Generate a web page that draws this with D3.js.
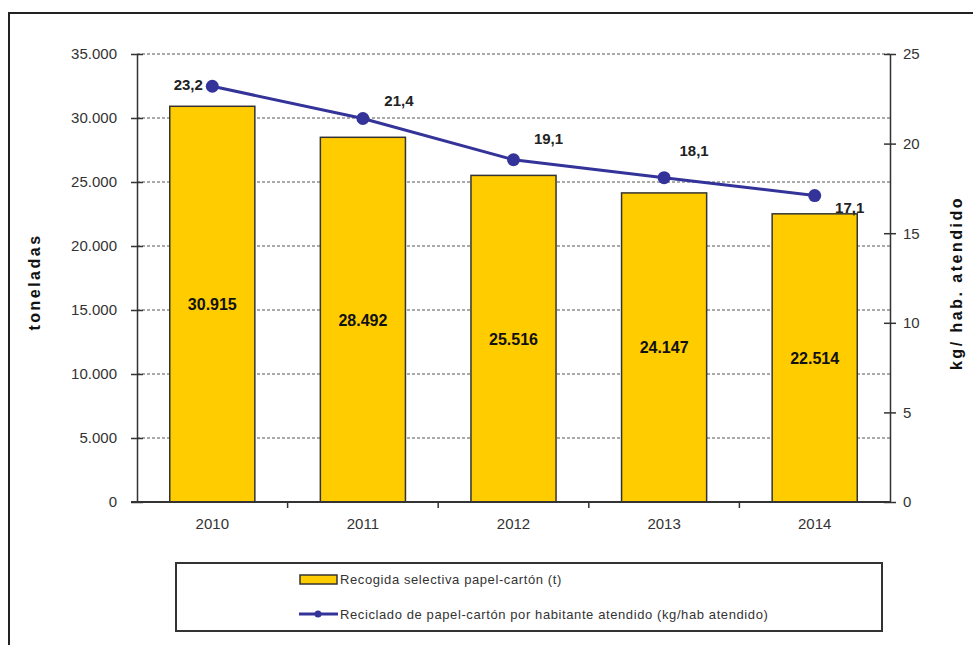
<!DOCTYPE html>
<html>
<head>
<meta charset="utf-8">
<script src="https://cdn.jsdelivr.net/npm/d3@7"></script>
<style>
  body { margin: 0; background: #fff; }
  svg { display: block; font-family: "Liberation Sans", Arial, sans-serif; }
</style>
</head>
<body>
<div id="chart"></div>
<script>
// data
const years = ["2010", "2011", "2012", "2013", "2014"];
const toneladas = [30915, 28492, 25516, 24147, 22514];
const kgHab = [23.2, 21.4, 19.1, 18.1, 17.1];
const leftTicks = [0, 5000, 10000, 15000, 20000, 25000, 30000, 35000];
const rightTicks = [0, 5, 10, 15, 20, 25];
const legendLabels = [
  "Recogida selectiva papel-cartón (t)",
  "Reciclado de papel-cartón por habitante atendido (kg/hab atendido)"
];

const width = 973, height = 645;
const margin = { top: 54, right: 83, bottom: 143, left: 137 };
const chartWidth = width - margin.left - margin.right;
const chartHeight = height - margin.top - margin.bottom;

const svg = d3.select("#chart").append("svg")
  .attr("width", width)
  .attr("height", height);

// outer frame
svg.append("rect")
  .attr("x", 9).attr("y", 13)
  .attr("width", 980).attr("height", 650)
  .attr("fill", "none")
  .attr("stroke", "#222")
  .attr("stroke-width", 2);

const g = svg.append("g")
  .attr("transform", `translate(${margin.left},${margin.top})`);

const x = d3.scaleBand()
  .domain(years)
  .range([0, chartWidth])
  .paddingInner(0.435)
  .paddingOuter(0.2175);

const y = d3.scaleLinear().domain([0, 35000]).range([chartHeight, 0]);
const y2 = d3.scaleLinear().domain([0, 25]).range([chartHeight, 0]);

const fmtThousands = d3.formatLocale({ decimal: ",", thousands: ".", grouping: [3], currency: ["", ""] }).format(",d");

// gridlines
g.append("g")
  .selectAll("line")
  .data(leftTicks.filter(d => d > 0))
  .enter().append("line")
  .attr("x1", 0).attr("x2", chartWidth)
  .attr("y1", d => y(d)).attr("y2", d => y(d))
  .attr("stroke", "#555")
  .attr("stroke-width", 1)
  .attr("stroke-dasharray", "3,2");

// bars
g.append("g")
  .selectAll("rect")
  .data(toneladas)
  .enter().append("rect")
  .attr("x", (d, i) => x(years[i]))
  .attr("y", d => y(d))
  .attr("width", x.bandwidth())
  .attr("height", d => chartHeight - y(d))
  .attr("fill", "#FFCC00")
  .attr("stroke", "#333")
  .attr("stroke-width", 1.5);

// bar labels
g.append("g")
  .selectAll("text")
  .data(toneladas)
  .enter().append("text")
  .attr("x", (d, i) => x(years[i]) + x.bandwidth() / 2)
  .attr("y", d => (y(d) + chartHeight) / 2 + 6)
  .attr("text-anchor", "middle")
  .attr("font-size", 16)
  .attr("font-weight", "bold")
  .attr("fill", "#111")
  .text(d => fmtThousands(d));

// left axis
const leftAxis = g.append("g")
  .call(d3.axisLeft(y).tickValues(leftTicks).tickSizeInner(6).tickSizeOuter(0).tickFormat(fmtThousands));
leftAxis.select(".domain").attr("stroke", "#333").attr("stroke-width", 1.5);
leftAxis.selectAll(".tick line").attr("x1", 6).attr("x2", -6).attr("stroke", "#333").attr("stroke-width", 1.5);
leftAxis.selectAll(".tick text").attr("x", -20).attr("font-size", 15).attr("fill", "#333");

// right axis
const rightAxis = g.append("g")
  .attr("transform", `translate(${chartWidth},0)`)
  .call(d3.axisRight(y2).tickValues(rightTicks).tickSizeInner(6).tickSizeOuter(0));
rightAxis.select(".domain").attr("stroke", "#333").attr("stroke-width", 1.5);
rightAxis.selectAll(".tick line").attr("x1", -6).attr("x2", 6).attr("stroke", "#333").attr("stroke-width", 1.5);
rightAxis.selectAll(".tick text").attr("x", 13).attr("font-size", 15).attr("fill", "#333");

// bottom axis: labels at band centres, ticks at band boundaries
const bottom = g.append("g").attr("transform", `translate(0,${chartHeight})`);
bottom.append("line")
  .attr("x1", -6).attr("x2", chartWidth)
  .attr("stroke", "#333").attr("stroke-width", 2);
bottom.selectAll(".sep")
  .data(years.slice(1))
  .enter().append("line")
  .attr("class", "sep")
  .attr("x1", d => x(d) - x.step() * x.paddingInner() / 2)
  .attr("x2", d => x(d) - x.step() * x.paddingInner() / 2)
  .attr("y1", 0).attr("y2", 6)
  .attr("stroke", "#333").attr("stroke-width", 1.5);
bottom.selectAll(".yr")
  .data(years)
  .enter().append("text")
  .attr("class", "yr")
  .attr("x", d => x(d) + x.bandwidth() / 2)
  .attr("y", 27)
  .attr("text-anchor", "middle")
  .attr("font-size", 15)
  .attr("fill", "#333")
  .text(d => d);

// axis titles
svg.append("text")
  .attr("transform", `translate(40,${margin.top + chartHeight / 2 + 4}) rotate(-90)`)
  .attr("text-anchor", "middle")
  .attr("font-size", 16)
  .attr("font-weight", "bold")
  .attr("letter-spacing", 2.5)
  .attr("fill", "#111")
  .text("toneladas");

svg.append("text")
  .attr("transform", `translate(962,${margin.top + chartHeight / 2 + 5}) rotate(-90)`)
  .attr("text-anchor", "middle")
  .attr("font-size", 16)
  .attr("font-weight", "bold")
  .attr("letter-spacing", 2.5)
  .attr("fill", "#111")
  .text("kg/ hab. atendido");

// line
const cx = (d, i) => x(years[i]) + x.bandwidth() / 2;
g.append("path")
  .datum(kgHab)
  .attr("fill", "none")
  .attr("stroke", "#333399")
  .attr("stroke-width", 3)
  .attr("d", d3.line().x(cx).y(d => y2(d)));

g.append("g")
  .selectAll("circle")
  .data(kgHab)
  .enter().append("circle")
  .attr("cx", cx)
  .attr("cy", d => y2(d))
  .attr("r", 6.5)
  .attr("fill", "#333399");

// line labels
const labelOffsets = [[-24, 4], [36, -13], [35, -16], [30, -22], [35, 17]];
g.append("g")
  .selectAll("text")
  .data(kgHab)
  .enter().append("text")
  .attr("x", (d, i) => cx(d, i) + labelOffsets[i][0])
  .attr("y", (d, i) => y2(d) + labelOffsets[i][1])
  .attr("text-anchor", "middle")
  .attr("font-size", 15)
  .attr("font-weight", "bold")
  .attr("fill", "#222")
  .text(d => d3.format(".1f")(d).replace(".", ","));

// legend
const legend = svg.append("g");
legend.append("rect")
  .attr("x", 176).attr("y", 563)
  .attr("width", 706).attr("height", 68)
  .attr("fill", "#fff")
  .attr("stroke", "#333")
  .attr("stroke-width", 2);

legend.append("rect")
  .attr("x", 300).attr("y", 575)
  .attr("width", 37).attr("height", 9)
  .attr("fill", "#FFCC00")
  .attr("stroke", "#333")
  .attr("stroke-width", 1.5);

legend.append("line")
  .attr("x1", 299).attr("x2", 338)
  .attr("y1", 614).attr("y2", 614)
  .attr("stroke", "#333399").attr("stroke-width", 3);
legend.append("circle")
  .attr("cx", 318).attr("cy", 614).attr("r", 3.5)
  .attr("fill", "#333399");

legend.selectAll(".lt")
  .data(legendLabels)
  .enter().append("text")
  .attr("class", "lt")
  .attr("x", 340)
  .attr("y", (d, i) => 584 + i * 35)
  .attr("font-size", 13)
  .attr("letter-spacing", 0.6)
  .attr("fill", "#333")
  .text(d => d);
</script>
</body>
</html>
